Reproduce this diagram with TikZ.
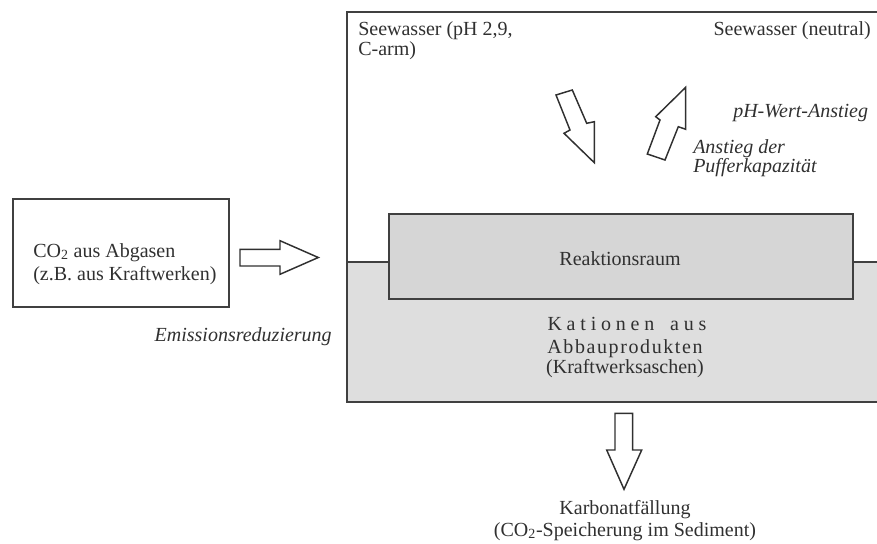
\documentclass[tikz,border=0pt]{standalone}
\usepackage{fontspec}
\setmainfont{Liberation Serif}
\definecolor{txtgray}{HTML}{303030}
\definecolor{linegray}{HTML}{404040}
\definecolor{lowfill}{HTML}{DEDEDE}
\definecolor{reakfill}{HTML}{D6D6D6}
\begin{document}
\begin{tikzpicture}[x=0.75pt,y=-0.75pt,
  lbl/.style={inner sep=0pt, text=txtgray, font=\fontsize{15}{17}\selectfont},
  ilbl/.style={lbl, font=\fontsize{15}{17}\selectfont\itshape},
  frame/.style={draw=linegray, line width=1.5pt},
  fatarrow/.style={draw=txtgray, line width=1.1pt, fill=white, line join=miter}]
\useasboundingbox (0,0) rectangle (877,543);
% lower (gray) part of the basin
\fill[lowfill] (347,262) rectangle (880,402);
\draw[frame] (880,12) -- (347,12) -- (347,402) -- (880,402);
\draw[frame] (347,262) -- (880,262);
% reaction chamber
\node[draw=linegray, line width=1.6pt, fill=reakfill, minimum width=348pt, minimum height=63.75pt, inner sep=0pt, anchor=north west] (reak) at (388,213) {};
% source box
\node[frame, minimum width=162pt, minimum height=81pt, inner sep=0pt, anchor=north west] (src) at (12,198) {};
% texts
\node[lbl, anchor=base west] (co2a) at (33,257) {CO\textsubscript{2} aus Abgasen};
\node[lbl, anchor=base west] (co2b) at (33,280) {(z.B. aus Kraftwerken)};
\node[ilbl, anchor=base east] (emis) at (332,341) {Emissionsreduzierung};
\node[lbl, anchor=base west] (seeA1) at (358,35) {Seewasser (pH 2,9,};
\node[lbl, anchor=base west] (seeA2) at (358,55) {C-arm)};
\node[lbl, anchor=base east] (seeN) at (871,35) {Seewasser (neutral)};
\node[ilbl, anchor=base west] (ph) at (733,117) {pH-Wert-Anstieg};
\node[ilbl, anchor=base west] (anst1) at (693,153) {Anstieg der};
\node[ilbl, anchor=base west] (anst2) at (693,172) {Pufferkapazität};
\node[lbl, anchor=base] (reaktxt) at (620,265) {Reaktionsraum};
\node[lbl, anchor=base] (kat1) at (627,330) {\addfontfeature{LetterSpace=24}Kationen\hspace{4.5pt} aus};
\node[lbl, anchor=base] (kat2) at (625,353) {\addfontfeature{LetterSpace=8}Abbauprodukten};
\node[lbl, anchor=base] (kat3) at (625,373) {(Kraftwerksaschen)};
\node[lbl, anchor=base] (karb1) at (625,514) {Karbonatfällung};
\node[lbl, anchor=base] (karb2) at (625,536) {(CO\textsubscript{2}-Speicherung im Sediment)};
% block arrows
\draw[fatarrow] (240,249.3) -- (280,249.3) -- (280,240.7) -- (318.3,257.5) -- (280,274.3) -- (280,266) -- (240,266) -- cycle;
\draw[fatarrow] (615,413.3) -- (632.7,413.3) -- (632.7,450) -- (641.7,450) -- (624,489.3) -- (606.7,450) -- (615,450) -- cycle;
\draw[fatarrow] (556,95) -- (572.3,90) -- (586.7,123.3) -- (594.3,121.7) -- (594.3,162.7) -- (564,133.3) -- (570,130) -- cycle;
\draw[fatarrow] (685.7,87.3) -- (685.7,129.3) -- (678.3,126.7) -- (665,160) -- (647.3,154) -- (660,120) -- (655.7,116.7) -- cycle;
\end{tikzpicture}
\end{document}
